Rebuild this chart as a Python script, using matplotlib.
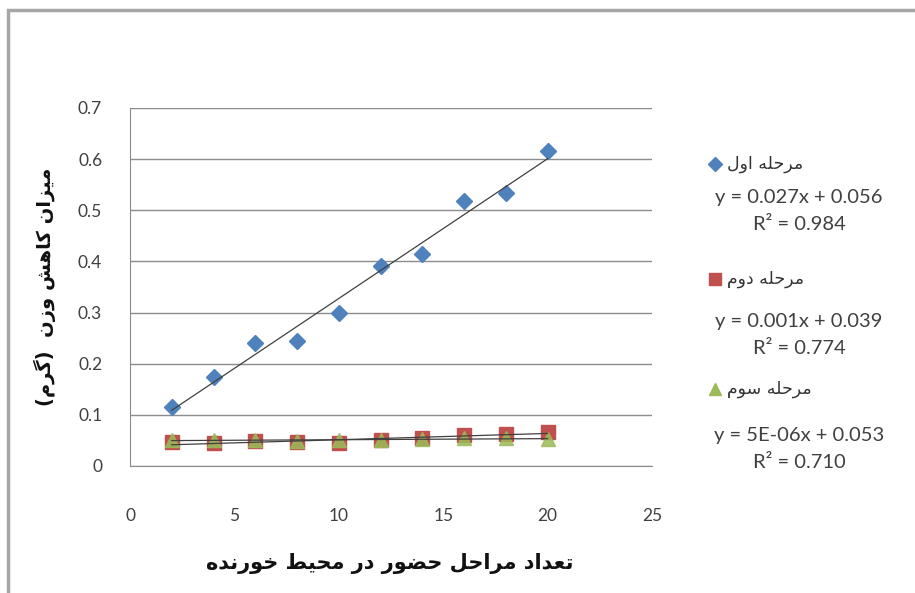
import matplotlib
matplotlib.use("Agg")
import matplotlib.pyplot as plt
import numpy as np
from matplotlib.patches import Rectangle

# data
x_steps = [2, 4, 6, 8, 10, 12, 14, 16, 18, 20]
stage1 = [0.116, 0.174, 0.240, 0.245, 0.299, 0.391, 0.415, 0.519, 0.534, 0.616]
stage2 = [0.047, 0.044, 0.048, 0.046, 0.045, 0.051, 0.055, 0.060, 0.063, 0.067]
stage3 = [0.051, 0.050, 0.051, 0.049, 0.050, 0.051, 0.053, 0.055, 0.054, 0.052]

names = ["مرحله اول", "مرحله دوم", "مرحله سوم"]
equations = ["y = 0.027x + 0.056", "y = 0.001x + 0.039", "y = 5E-06x + 0.053"]
r2_texts = ["R² = 0.984", "R² = 0.774", "R² = 0.710"]
xlabel = "تعداد مراحل حضور در محیط خورنده"
ylabel = "میزان کاهش وزن  (گرم)"
yticks = [0, 0.1, 0.2, 0.3, 0.4, 0.5, 0.6, 0.7]
xticks = [0, 5, 10, 15, 20, 25]

# matplotlib does no arabic shaping, so pick presentation forms by hand
FORMS = {
    'ا': ('\uFE8D', '\uFE8E'), 'د': ('\uFEA9', '\uFEAA'), 'ر': ('\uFEAD', '\uFEAE'),
    'ز': ('\uFEAF', '\uFEB0'), 'و': ('\uFEED', '\uFEEE'),
    'ت': ('\uFE95', '\uFE96', '\uFE97', '\uFE98'), 'ح': ('\uFEA1', '\uFEA2', '\uFEA3', '\uFEA4'),
    'خ': ('\uFEA5', '\uFEA6', '\uFEA7', '\uFEA8'), 'س': ('\uFEB1', '\uFEB2', '\uFEB3', '\uFEB4'),
    'ش': ('\uFEB5', '\uFEB6', '\uFEB7', '\uFEB8'), 'ض': ('\uFEBD', '\uFEBE', '\uFEBF', '\uFEC0'),
    'ط': ('\uFEC1', '\uFEC2', '\uFEC3', '\uFEC4'), 'ع': ('\uFEC9', '\uFECA', '\uFECB', '\uFECC'),
    'ل': ('\uFEDD', '\uFEDE', '\uFEDF', '\uFEE0'), 'م': ('\uFEE1', '\uFEE2', '\uFEE3', '\uFEE4'),
    'ن': ('\uFEE5', '\uFEE6', '\uFEE7', '\uFEE8'), 'ه': ('\uFEE9', '\uFEEA', '\uFEEB', '\uFEEC'),
    '\u06A9': ('\uFB8E', '\uFB8F', '\uFB90', '\uFB91'), 'گ': ('\uFB92', '\uFB93', '\uFB94', '\uFB95'),
    '\u06CC': ('\uFBFC', '\uFBFD', '\uFBFE', '\uFBFF'),
}


def fa(text):
    text = text.replace('\u064A', '\u06CC').replace('\u0643', '\u06A9')
    out = []
    for i, c in enumerate(text):
        if c not in FORMS:
            out.append(c)
            continue
        f = FORMS[c]
        prev = i > 0 and text[i - 1] in FORMS and len(FORMS[text[i - 1]]) == 4
        nxt = i + 1 < len(text) and text[i + 1] in FORMS and len(f) == 4
        if prev and nxt:
            out.append(f[3])
        elif prev:
            out.append(f[1])
        elif nxt:
            out.append(f[2])
        else:
            out.append(f[0])
    s = ''.join(reversed(out))
    return s.translate(str.maketrans('()', ')('))


plt.rcParams['font.family'] = ['Lato', 'DejaVu Sans']

fig = plt.figure(figsize=(9.15, 5.93), dpi=100)
ax = fig.add_axes([130 / 915, 1 - 466 / 593, 522 / 915, 358 / 593])

colors = ['#4F81BD', '#C0504D', '#9BBB59']
markers = ['D', 's', '^']
sizes = [8, 9.5, 10]
series = [stage1, stage2, stage3]
xs = np.array(x_steps)

for ys, col, mk, ms in zip(series, colors, markers, sizes):
    ax.plot(xs, ys, linestyle='none', marker=mk, markersize=ms, color=col,
            markeredgecolor=col, alpha=0.85 if mk == '^' else 1, zorder=3)
for ys in series:
    k, b = np.polyfit(xs, ys, 1)
    ax.plot(xs, k * xs + b, color='#404040', lw=0.9, zorder=4)

ax.set_xlim(0, 25)
ax.set_ylim(0, 0.7)
ax.set_xticks(xticks)
ax.set_yticks(yticks)
ax.set_yticklabels([f"{v:g}" for v in yticks])
ax.tick_params(axis='both', length=0, labelsize=12.5, labelcolor='#404040')
ax.tick_params(axis='y', pad=20)
ax.tick_params(axis='x', pad=30)
ax.grid(axis='y', color='#8C8C8C', lw=1)
ax.set_axisbelow(True)
for s in ['top', 'right']:
    ax.spines[s].set_visible(False)
for s in ['left', 'bottom']:
    ax.spines[s].set_color('#8C8C8C')

# axis titles placed where the excel chart has them
fig.text(390 / 915, 1 - 563 / 593, fa(xlabel), family=['DejaVu Sans'], fontsize=15,
         fontweight='bold', ha='center', va='center', color='#111111')
fig.text(45 / 915, 1 - 287 / 593, fa(ylabel), family=['DejaVu Sans'], fontsize=14,
         fontweight='bold', ha='center', va='center', rotation=90, color='#111111')

# legend with trendline equations, drawn as in the excel chart
entry_y = [164, 279, 389]
eq_y = [198, 321, 435]
r2_y = [225, 348, 462]
for i in range(3):
    fig.lines.append(plt.Line2D([715 / 915], [1 - entry_y[i] / 593], marker=markers[i],
                                markersize=sizes[i] * 0.85, color=colors[i],
                                transform=fig.transFigure))
    fig.text(727 / 915, 1 - entry_y[i] / 593, fa(names[i]), family=['DejaVu Sans'],
             fontsize=12.5, ha='left', va='center', color='#333333')
    fig.text(799 / 915, 1 - eq_y[i] / 593, equations[i], fontsize=14.5,
             ha='center', va='center', color='#404040')
    fig.text(799 / 915, 1 - r2_y[i] / 593, r2_texts[i], fontsize=14.5,
             ha='center', va='center', color='#404040')

# chart frame
fig.patches.append(Rectangle((8 / 915, -0.5), 2, 1.5 - 10 / 593, transform=fig.transFigure,
                             fill=False, edgecolor='#A6A6A6', lw=2.5))

fig.savefig('out.png', dpi=100)
